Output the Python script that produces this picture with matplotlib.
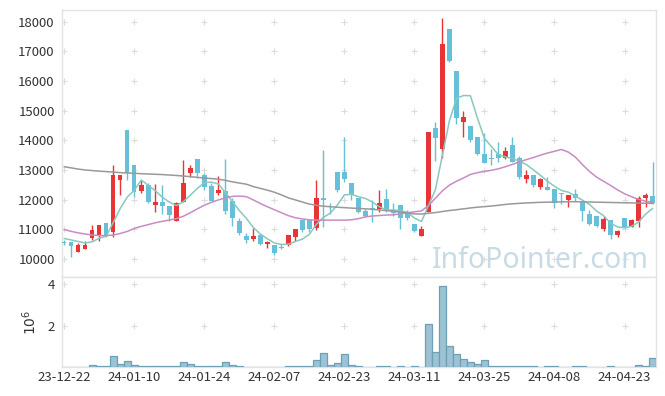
import numpy as np
import matplotlib
matplotlib.use("Agg")
import matplotlib.pyplot as plt

plt.rcParams['font.family'] = ['Noto Sans CJK KR', 'DejaVu Sans']

# daily candles, one per trading day (index 0 = 23-12-22)
opens = [10560, 10570, 10230, 10350, 10720, 10810, 11200, 10920, 12660, 14350,
         13170, 12300, 12500, 11820, 11930, 11790, 11280, 11910, 12900, 13360,
         12830, 12460, 12230, 12290, 11940, 11270, 10790, 10660, 10810, 10510,
         10470, 10390, 10470, 10730, 11310, 11310, 11030, 12050, 11760, 12940,
         12940, 12560, 12050, 11630, 11710, 11670, 12010, 11660, 11820, 11550,
         11180, 10790, 11590, 14400, 13700, 17750, 16340, 14630, 14480, 14120,
         13540, 13400, 13540, 13410, 13840, 13390, 12700, 12830, 12420, 12440,
         12360, 12240, 11990, 12180, 11930, 11510, 11450, 11000, 11310, 10810,
         11370, 11090, 11290, 12070, 12120]
highs = [10640, 10570, 10550, 10620, 11130, 11130, 11200, 13170, 12830, 14350,
         13170, 12660, 12570, 12520, 12500, 11790, 11920, 13330, 13180, 13370,
         12900, 12570, 12790, 13370, 12060, 11380, 10880, 11060, 10810, 10620,
         10470, 10510, 10810, 11000, 11310, 11310, 12660, 13670, 11900, 12940,
         14120, 12560, 12050, 11680, 11990, 12330, 12350, 11900, 11820, 11640,
         11180, 11110, 14270, 14610, 18110, 17750, 16340, 14990, 14480, 14120,
         14240, 13700, 13950, 13760, 14120, 13480, 13000, 12830, 12730, 12750,
         12360, 12240, 12160, 12350, 11930, 11650, 11450, 11450, 11310, 10980,
         11370, 11340, 12120, 12240, 13280]
lows = [10460, 10070, 10230, 10350, 10640, 10620, 10750, 10750, 12160, 12660,
        12080, 12210, 11900, 11600, 11510, 11280, 11280, 11910, 12750, 12720,
        12320, 11940, 12170, 11500, 11100, 10820, 10540, 10600, 10470, 10360,
        10140, 10320, 10440, 10620, 10920, 10920, 10980, 11090, 11530, 12270,
        12610, 12000, 11540, 11420, 11260, 11590, 11590, 11460, 11000, 11300,
        10920, 10790, 11590, 13300, 13390, 16650, 14540, 14120, 13930, 13500,
        13250, 13170, 13280, 13370, 13280, 12700, 12550, 12440, 12350, 12330,
        11710, 11870, 11740, 11940, 11280, 11150, 11070, 10960, 10660, 10730,
        11030, 11090, 11090, 11740, 11870]
closes = [10530, 10450, 10470, 10470, 10980, 11130, 10780, 12830, 12830, 12890,
          12270, 12500, 11930, 11930, 11770, 11490, 11880, 12570, 13070, 12890,
          12440, 11970, 12310, 11610, 11380, 10880, 10650, 10760, 10510, 10580,
          10210, 10360, 10810, 11000, 10980, 11000, 12050, 11990, 11740, 12330,
          12690, 12150, 11590, 11460, 11690, 11900, 11630, 11550, 11390, 11390,
          10960, 11000, 14270, 14090, 17250, 16680, 14760, 14780, 14010, 13530,
          13250, 13380, 13390, 13640, 13280, 12770, 12830, 12490, 12700, 12330,
          11880, 12180, 12160, 12050, 11620, 11180, 11110, 11340, 10810, 10940,
          11070, 11310, 12050, 12160, 11900]

# moving averages as drawn (5, 20, 60 days)
ma5 = [10690, 10640, 10590, 10540, 10580, 10700, 10770, 11240, 11710, 12090,
       12320, 12660, 12480, 12300, 12080, 11920, 11800, 11930, 12150, 12380,
       12570, 12590, 12530, 12240, 11940, 11630, 11370, 11060, 10840, 10680,
       10540, 10490, 10500, 10590, 10670, 10830, 11170, 11400, 11550, 11820,
       12160, 12180, 12100, 12040, 11920, 11760, 11650, 11650, 11630, 11570,
       11380, 11260, 11800, 12340, 13510, 14660, 15410, 15510, 15500, 14750,
       14060, 13790, 13510, 13440, 13390, 13290, 13180, 13000, 12820, 12620,
       12450, 12310, 12250, 12120, 11980, 11840, 11620, 11460, 11210, 11080,
       11050, 11100, 11240, 11510, 11700]
ma20 = [10990, 10930, 10880, 10840, 10810, 10790, 10790, 10810, 10860, 10930,
        11030, 11100, 11160, 11220, 11270, 11310, 11360, 11440, 11560, 11690,
        11810, 11910, 11990, 12060, 12110, 12120, 12100, 11990, 11870, 11760,
        11660, 11560, 11460, 11390, 11350, 11320, 11310, 11310, 11310, 11310,
        11310, 11320, 11360, 11420, 11450, 11465, 11480, 11490, 11520, 11560,
        11590, 11620, 11800, 12050, 12300, 12490, 12620, 12730, 12850, 12910,
        12950, 12990, 13040, 13110, 13190, 13270, 13350, 13420, 13500, 13570,
        13630, 13690, 13600, 13430, 13180, 12950, 12760, 12620, 12480, 12330,
        12200, 12100, 12010, 11950, 11910]
ma60 = [13110, 13070, 13030, 13000, 12980, 12960, 12945, 12930, 12910, 12900,
        12888, 12875, 12865, 12855, 12845, 12830, 12815, 12795, 12775, 12750,
        12730, 12710, 12690, 12650, 12600, 12560, 12520, 12440, 12380, 12320,
        12250, 12160, 12060, 11990, 11920, 11850, 11810, 11780, 11760, 11745,
        11730, 11715, 11705, 11690, 11675, 11650, 11630, 11610, 11580, 11550,
        11520, 11515, 11540, 11565, 11600, 11635, 11660, 11690, 11720, 11745,
        11765, 11785, 11810, 11840, 11860, 11875, 11890, 11900, 11910, 11915,
        11920, 11925, 11930, 11930, 11925, 11920, 11915, 11910, 11905, 11900,
        11895, 11890, 11885, 11880, 11875]

# volume in millions of shares
volume = [0, 0, 0, 0, 0.08, 0.03, 0.03, 0.52, 0.13, 0.29,
          0.08, 0.03, 0.03, 0.03, 0.03, 0.03, 0.03, 0.23, 0.13, 0.03,
          0.03, 0.03, 0.03, 0.23, 0.08, 0.03, 0, 0, 0, 0,
          0.02, 0, 0.03, 0.03, 0.03, 0.03, 0.34, 0.66, 0.08, 0.18,
          0.61, 0.10, 0.03, 0, 0, 0.03, 0.03, 0, 0.03, 0,
          0.03, 0, 2.07, 0.73, 3.92, 1.00, 0.61, 0.37, 0.23, 0.13,
          0.32, 0.06, 0.06, 0.06, 0.06, 0.06, 0.03, 0.03, 0, 0.03,
          0.03, 0, 0, 0.03, 0.03, 0, 0, 0, 0.03, 0,
          0, 0, 0.08, 0.03, 0.44]

tick_labels = ['23-12-22', '24-01-10', '24-01-24', '24-02-07', '24-02-23',
               '24-03-11', '24-03-25', '24-04-08', '24-04-23']

up_color = '#e83434'
down_color = '#66c0da'

o = np.array(opens)
h = np.array(highs)
l = np.array(lows)
c = np.array(closes)
x = np.arange(len(o))
tick_pos = np.arange(0, len(o), 10)
colors = np.where(c > o, up_color, down_color)

fig = plt.figure(figsize=(6.65, 3.96), dpi=100)
ax = fig.add_axes([0.0928, 0.3005, 0.8937, 0.6742])
axv = fig.add_axes([0.0928, 0.0732, 0.8937, 0.2273], sharex=ax)

for a in (ax, axv):
    for s in a.spines.values():
        s.set_color('#e3e3e3')
        s.set_linewidth(1.0)
    a.tick_params(length=0, colors='#333333', labelsize=9.5, pad=5)

# plus-shaped grid marks
gx, gy = np.meshgrid(tick_pos, np.arange(10000, 18001, 1000))
ax.scatter(gx.ravel(), gy.ravel(), marker='+', s=22, color='#dcdcdc', linewidths=0.8, zorder=0)
gx, gy = np.meshgrid(tick_pos, [2, 4])
axv.scatter(gx.ravel(), gy.ravel(), marker='+', s=22, color='#dcdcdc', linewidths=0.8, zorder=0)

ax.text(0.805, 0.035, 'InfoPointer.com', transform=ax.transAxes, ha='center', va='baseline',
        fontsize=20.5, color='#c8dbe5', family=['Noto Sans', 'DejaVu Sans'], zorder=0)

# candles
ax.vlines(x, l, h, colors=colors, linewidth=1.0, zorder=3)
body_low = np.minimum(o, c)
body_h = np.maximum(np.abs(c - o), 25)
ax.bar(x, body_h, bottom=body_low, width=0.62, color=colors, linewidth=0, zorder=4)

ax.plot(x, ma5, color='#8ac8be', linewidth=1.1, zorder=5)
ax.plot(x, ma20, color='#c98bc4', linewidth=1.1, zorder=5)
ax.plot(x, ma60, color='#999999', linewidth=1.1, zorder=5)

ax.set_ylim(9393, 18391)
ax.set_yticks(np.arange(10000, 18001, 1000))
ax.set_xlim(-0.37, 84.5)
ax.tick_params(axis='x', labelbottom=False)

axv.bar(x, volume, width=1.0, color='#9cc3d3', edgecolor='#6d9fb5', linewidth=0.9, zorder=3)
axv.set_ylim(0, 4.35)
axv.set_yticks([2, 4])
axv.set_yticklabels(['2', '4'])
axv.set_xticks(tick_pos)
axv.set_xticklabels(tick_labels)
axv.tick_params(axis='x', pad=3)
fig.text(30 / 665, 1 - 322 / 396, r'$10^6$', rotation=90, ha='center', va='center',
         fontsize=10, color='#333333')

fig.savefig('out.png', dpi=100)
